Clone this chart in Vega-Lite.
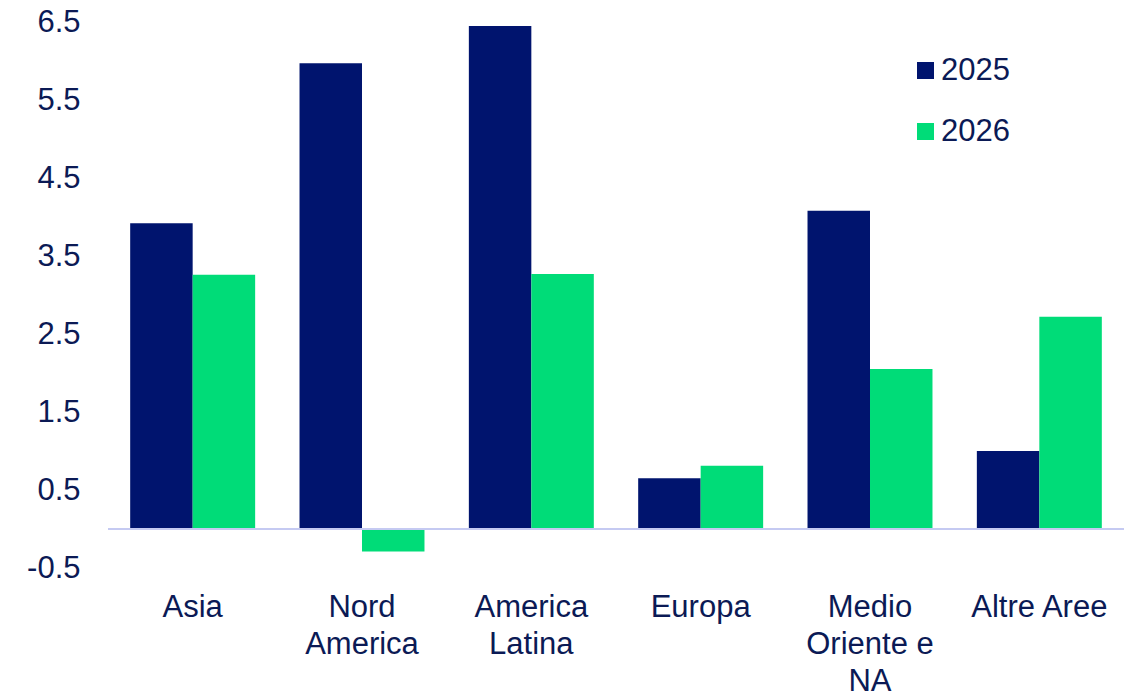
{
  "$schema": "https://vega.github.io/schema/vega-lite/v6.json",
  "width": 1016,
  "height": 546,
  "autosize": {"type": "none"},
  "padding": {"left": 108, "top": 22, "right": 14, "bottom": 125},
  "background": "white",
  "config": {"view": {"stroke": null}, "font": "Liberation Sans"},
  "data": {"values": [
    {"region": "Asia", "year": "2025", "value": 3.92},
    {"region": "Asia", "year": "2026", "value": 3.26},
    {"region": "Nord America", "year": "2025", "value": 5.97},
    {"region": "Nord America", "year": "2026", "value": -0.29},
    {"region": "America Latina", "year": "2025", "value": 6.45},
    {"region": "America Latina", "year": "2026", "value": 3.27},
    {"region": "Europa", "year": "2025", "value": 0.65},
    {"region": "Europa", "year": "2026", "value": 0.81},
    {"region": "Medio Oriente e NA", "year": "2025", "value": 4.08},
    {"region": "Medio Oriente e NA", "year": "2026", "value": 2.05},
    {"region": "Altre Aree", "year": "2025", "value": 1.0},
    {"region": "Altre Aree", "year": "2026", "value": 2.72}
  ]},
  "layer": [
    {
      "mark": {"type": "bar"},
      "encoding": {
        "x": {
          "field": "region", "type": "nominal",
          "sort": ["Asia", "Nord America", "America Latina", "Europa", "Medio Oriente e NA", "Altre Aree"],
          "scale": {"paddingInner": 0.262, "paddingOuter": 0.131},
          "axis": {
            "title": null, "domain": false, "ticks": false, "tickSize": 0, "grid": false,
            "labelAngle": 0, "labelFontSize": 31, "labelColor": "#0B1A55", "labelPadding": 24,
            "labelLineHeight": 37, "labelBaseline": "top",
            "labelExpr": "datum.value == 'Nord America' ? ['Nord','America'] : datum.value == 'America Latina' ? ['America','Latina'] : datum.value == 'Medio Oriente e NA' ? ['Medio','Oriente e','NA'] : datum.value"
          }
        },
        "xOffset": {"field": "year", "type": "nominal"},
        "y": {
          "field": "value", "type": "quantitative",
          "scale": {"domain": [-0.5, 6.5], "nice": false, "zero": false},
          "axis": {
            "title": null, "domain": false, "ticks": false, "tickSize": 0, "grid": false,
            "values": [-0.5, 0.5, 1.5, 2.5, 3.5, 4.5, 5.5, 6.5],
            "labelExpr": "datum.value < 0 ? '-' + format(-datum.value, '.1f') : format(datum.value, '.1f')",
            "labelFontSize": 31, "labelColor": "#0B1A55", "labelPadding": 28
          }
        },
        "color": {
          "field": "year", "type": "nominal",
          "scale": {"domain": ["2025", "2026"], "range": ["#00146E", "#00DC78"]},
          "legend": {
            "title": null, "orient": "none", "legendX": 802, "legendY": 33,
            "symbolType": "square", "symbolSize": 289, "symbolStrokeWidth": 0,
            "labelFontSize": 31, "labelColor": "#0B1A55", "labelOffset": 0, "rowPadding": 29
          }
        }
      }
    },
    {
      "mark": {"type": "rule", "color": "#C5CAF2", "strokeWidth": 2},
      "encoding": {"y": {"datum": 0}}
    }
  ]
}
